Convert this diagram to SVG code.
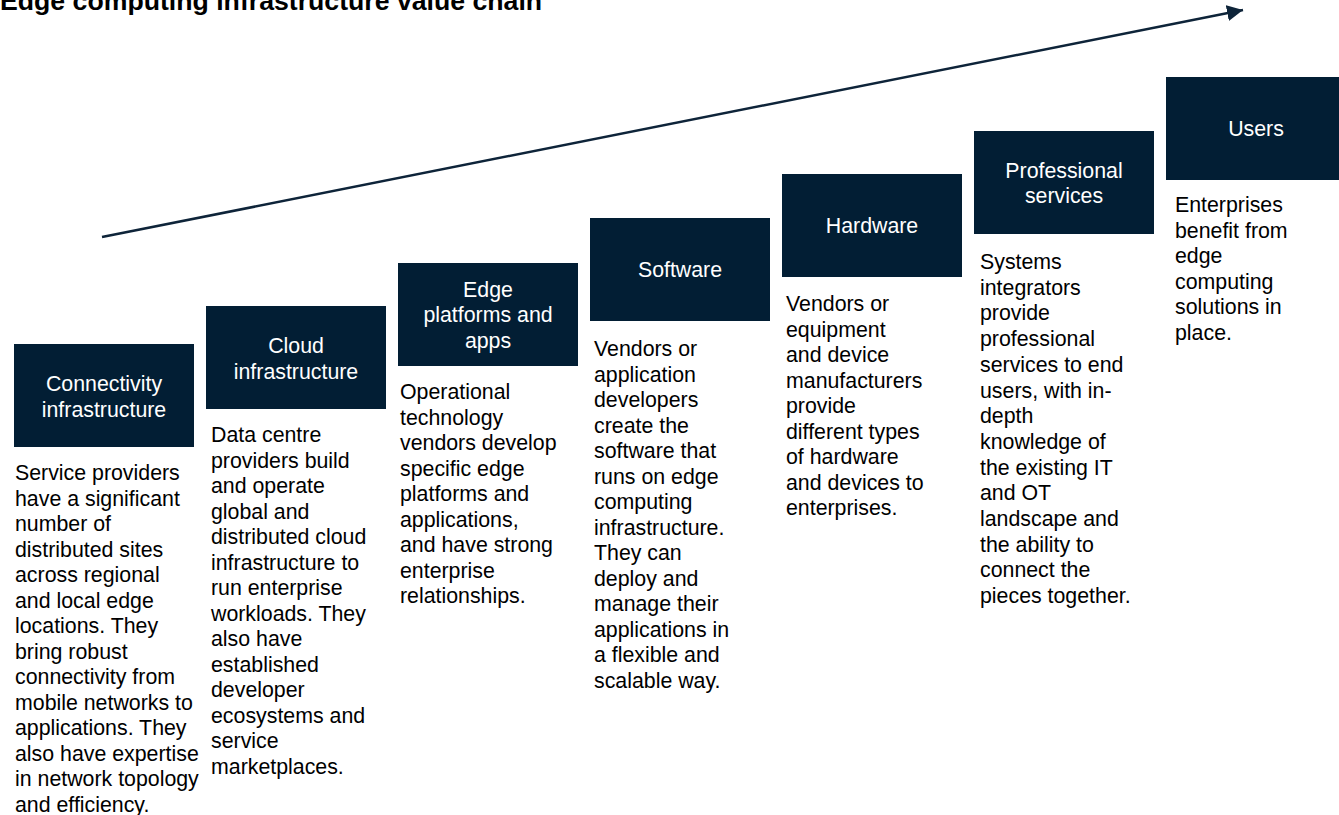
<svg xmlns="http://www.w3.org/2000/svg" width="1339" height="815" viewBox="0 0 1339 815">
<defs>
<style>
.box{fill:#021e34}
.bt{font-family:"Liberation Sans",Arial,sans-serif;font-size:21.33px;fill:#ffffff;text-anchor:middle}
.dt{font-family:"Liberation Sans",Arial,sans-serif;font-size:21.33px;fill:#000000}
.title{font-family:"Liberation Sans",Arial,sans-serif;font-size:26.67px;font-weight:bold;fill:#000000}
.conn{stroke:#0e2439;stroke-width:2.5;fill:none}
</style>
<marker id="ah" markerUnits="userSpaceOnUse" markerWidth="20" markerHeight="20" refX="16" refY="8" orient="auto">
<path d="M0,0 L16,8 L0,16 Z" fill="#0e2439"/>
</marker>
</defs>
<rect width="1339" height="815" fill="#ffffff"/>
<text class="title" x="0" y="10">Edge computing infrastructure value chain</text>
<g id="connectors">
<line class="conn" x1="102" y1="237" x2="1243" y2="10" marker-end="url(#ah)"/>
</g>
<g id="node-connectivity">
<rect class="box" x="14" y="344" width="180" height="103"/>
<text class="bt"><tspan x="104" y="391">Connectivity</tspan><tspan x="104" y="417">infrastructure</tspan></text>
<text class="dt"><tspan x="15" y="480">Service providers</tspan><tspan x="15" dy="25.5">have a significant</tspan><tspan x="15" dy="25.5">number of</tspan><tspan x="15" dy="25.5">distributed sites</tspan><tspan x="15" dy="25.5">across regional</tspan><tspan x="15" dy="25.5">and local edge</tspan><tspan x="15" dy="25.5">locations. They</tspan><tspan x="15" dy="25.5">bring robust</tspan><tspan x="15" dy="25.5">connectivity from</tspan><tspan x="15" dy="25.5">mobile networks to</tspan><tspan x="15" dy="25.5">applications. They</tspan><tspan x="15" dy="25.5">also have expertise</tspan><tspan x="15" dy="25.5">in network topology</tspan><tspan x="15" dy="25.5">and efficiency.</tspan></text>
</g>
<g id="node-cloud">
<rect class="box" x="206" y="306" width="180" height="103"/>
<text class="bt"><tspan x="296" y="353">Cloud</tspan><tspan x="296" y="379">infrastructure</tspan></text>
<text class="dt"><tspan x="211" y="442">Data centre</tspan><tspan x="211" dy="25.5">providers build</tspan><tspan x="211" dy="25.5">and operate</tspan><tspan x="211" dy="25.5">global and</tspan><tspan x="211" dy="25.5">distributed cloud</tspan><tspan x="211" dy="25.5">infrastructure to</tspan><tspan x="211" dy="25.5">run enterprise</tspan><tspan x="211" dy="25.5">workloads. They</tspan><tspan x="211" dy="25.5">also have</tspan><tspan x="211" dy="25.5">established</tspan><tspan x="211" dy="25.5">developer</tspan><tspan x="211" dy="25.5">ecosystems and</tspan><tspan x="211" dy="25.5">service</tspan><tspan x="211" dy="25.5">marketplaces.</tspan></text>
</g>
<g id="node-edge">
<rect class="box" x="398" y="263" width="180" height="103"/>
<text class="bt"><tspan x="488" y="297">Edge</tspan><tspan x="488" y="322">platforms and</tspan><tspan x="488" y="348">apps</tspan></text>
<text class="dt"><tspan x="400" y="399">Operational</tspan><tspan x="400" dy="25.5">technology</tspan><tspan x="400" dy="25.5">vendors develop</tspan><tspan x="400" dy="25.5">specific edge</tspan><tspan x="400" dy="25.5">platforms and</tspan><tspan x="400" dy="25.5">applications,</tspan><tspan x="400" dy="25.5">and have strong</tspan><tspan x="400" dy="25.5">enterprise</tspan><tspan x="400" dy="25.5">relationships.</tspan></text>
</g>
<g id="node-software">
<rect class="box" x="590" y="218" width="180" height="103"/>
<text class="bt"><tspan x="680" y="277">Software</tspan></text>
<text class="dt"><tspan x="594" y="356">Vendors or</tspan><tspan x="594" dy="25.5">application</tspan><tspan x="594" dy="25.5">developers</tspan><tspan x="594" dy="25.5">create the</tspan><tspan x="594" dy="25.5">software that</tspan><tspan x="594" dy="25.5">runs on edge</tspan><tspan x="594" dy="25.5">computing</tspan><tspan x="594" dy="25.5">infrastructure.</tspan><tspan x="594" dy="25.5">They can</tspan><tspan x="594" dy="25.5">deploy and</tspan><tspan x="594" dy="25.5">manage their</tspan><tspan x="594" dy="25.5">applications in</tspan><tspan x="594" dy="25.5">a flexible and</tspan><tspan x="594" dy="25.5">scalable way.</tspan></text>
</g>
<g id="node-hardware">
<rect class="box" x="782" y="174" width="180" height="103"/>
<text class="bt"><tspan x="872" y="233">Hardware</tspan></text>
<text class="dt"><tspan x="786" y="311">Vendors or</tspan><tspan x="786" dy="25.5">equipment</tspan><tspan x="786" dy="25.5">and device</tspan><tspan x="786" dy="25.5">manufacturers</tspan><tspan x="786" dy="25.5">provide</tspan><tspan x="786" dy="25.5">different types</tspan><tspan x="786" dy="25.5">of hardware</tspan><tspan x="786" dy="25.5">and devices to</tspan><tspan x="786" dy="25.5">enterprises.</tspan></text>
</g>
<g id="node-professional">
<rect class="box" x="974" y="131" width="180" height="103"/>
<text class="bt"><tspan x="1064" y="178">Professional</tspan><tspan x="1064" y="203">services</tspan></text>
<text class="dt"><tspan x="980" y="269">Systems</tspan><tspan x="980" dy="25.7">integrators</tspan><tspan x="980" dy="25.7">provide</tspan><tspan x="980" dy="25.7">professional</tspan><tspan x="980" dy="25.7">services to end</tspan><tspan x="980" dy="25.7">users, with in-</tspan><tspan x="980" dy="25.7">depth</tspan><tspan x="980" dy="25.7">knowledge of</tspan><tspan x="980" dy="25.7">the existing IT</tspan><tspan x="980" dy="25.7">and OT</tspan><tspan x="980" dy="25.7">landscape and</tspan><tspan x="980" dy="25.7">the ability to</tspan><tspan x="980" dy="25.7">connect the</tspan><tspan x="980" dy="25.7">pieces together.</tspan></text>
</g>
<g id="node-users">
<rect class="box" x="1166" y="77" width="180" height="103"/>
<text class="bt"><tspan x="1256" y="136">Users</tspan></text>
<text class="dt"><tspan x="1175" y="212">Enterprises</tspan><tspan x="1175" dy="25.5">benefit from</tspan><tspan x="1175" dy="25.5">edge</tspan><tspan x="1175" dy="25.5">computing</tspan><tspan x="1175" dy="25.5">solutions in</tspan><tspan x="1175" dy="25.5">place.</tspan></text>
</g>
</svg>
